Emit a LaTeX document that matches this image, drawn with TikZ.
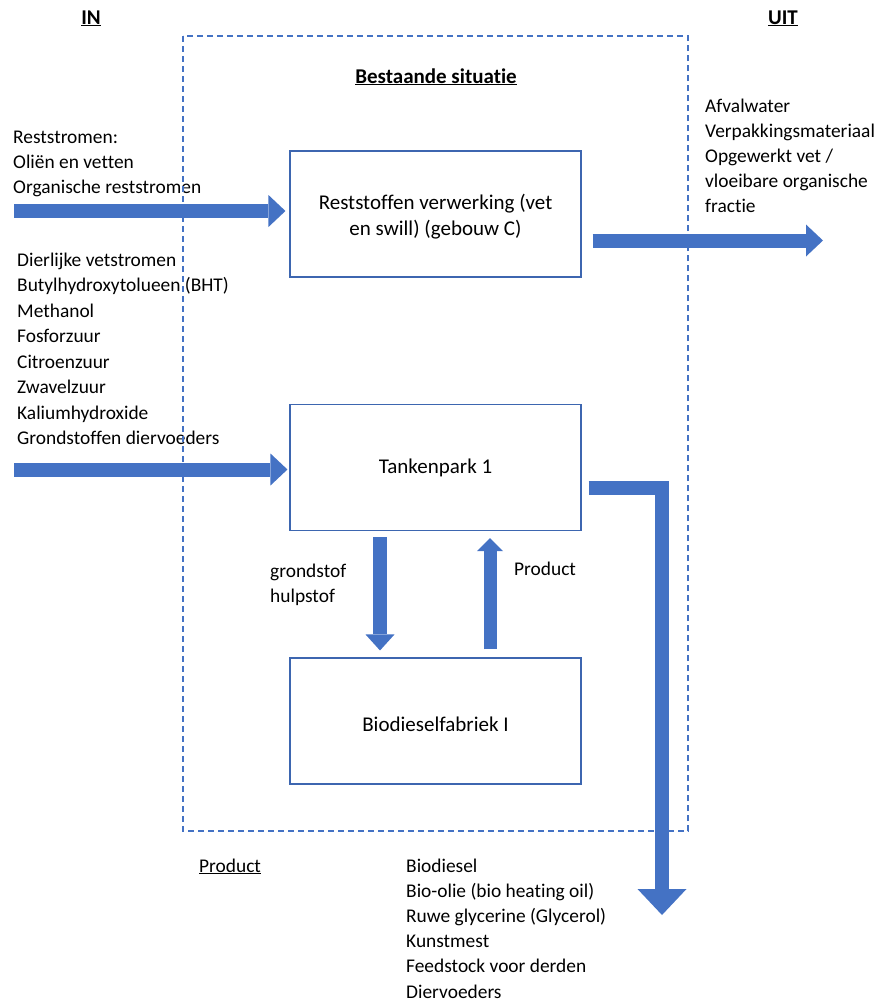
\documentclass[tikz,border=0pt]{standalone}
\usepackage{fontspec}
\setmainfont{Carlito}[Ligatures=NoCommon]
\usetikzlibrary{arrows.meta,positioning}
\definecolor{flowblue}{HTML}{4472C4}
\definecolor{boxblue}{HTML}{3D66B0}
\tikzset{
  procbox/.style={draw=boxblue,line width=1.1pt,fill=white,minimum width=291pt,
    minimum height=126pt,align=center,inner sep=0pt,font=\fontsize{21}{26}\selectfont},
  flow/.style={draw=flowblue,line width=14pt,
    -{Triangle[length=17pt,width=32pt,line width=0pt]}},
  listtext/.style={anchor=base west,inner sep=0pt},
  headtext/.style={anchor=base,inner sep=0pt,font=\fontsize{21}{26}\selectfont\bfseries},
}
\begin{document}
\begin{tikzpicture}[x=1pt,y=-1pt,
  every node/.style={font=\fontsize{19.4}{26}\selectfont}]
  \useasboundingbox (0,0) rectangle (877,1005);

  % Headers
  \node[headtext] (hin) at (91,24) {\underline{IN}};
  \node[headtext] (huit) at (783,24) {\underline{UIT}};
  \node[headtext] (htitle) at (436,83) {\underline{Bestaande situatie}};

  % Process boxes
  \node[procbox] (rest) at (435.5,214) {\rule{0pt}{21pt}Reststoffen verwerking (vet\\en swill) (gebouw C)};
  \node[procbox] (tank) at (435.5,467.5) {Tankenpark 1};
  \node[procbox] (bio) at (435.5,721) {\rule{0pt}{22pt}Biodieselfabriek I};

  % Incoming and outgoing streams
  \foreach \txt [count=\i from 0] in {Reststromen:,Oliën en vetten,Organische reststromen}
    \node[listtext] (inA\i) at (13,{143+25.2*\i}) {\txt};
  \foreach \txt [count=\i from 0] in {Dierlijke vetstromen,Butylhydroxytolueen (BHT),
      Methanol,Fosforzuur,Citroenzuur,Zwavelzuur,Kaliumhydroxide,Grondstoffen diervoeders}
    \node[listtext] (inB\i) at (17,{266+25.5*\i}) {\txt};
  \foreach \txt [count=\i from 0] in {Afvalwater,Verpakkingsmateriaal,Opgewerkt vet /,
      vloeibare organische,fractie}
    \node[listtext] (uit\i) at (705,{112+25*\i}) {\txt};

  \node[listtext] (grond) at (270,577) {grondstof};
  \node[listtext] (hulp) at (270,602) {hulpstof};
  \node[listtext] (prodlab) at (514,575) {Product};

  \node[listtext] (prodhead) at (199,872) {\underline{Product}};
  \foreach \txt [count=\i from 0] in {Biodiesel,Bio-olie (bio heating oil),
      Ruwe glycerine (Glycerol),Kunstmest,Feedstock voor derden,Diervoeders}
    \node[listtext] (prod\i) at (406,{872+25.2*\i}) {\txt};

  % Flow arrows
  \coordinate (srcA) at (14,211);
  \draw[flow,shorten >=4pt] (srcA) -- (srcA -| rest.west);
  \coordinate (dstA) at (823,240.5);
  \draw[flow] ([shift={(11,26.5)}]rest.east) -- (dstA);
  \coordinate (srcB) at (14,469.5);
  \draw[flow,shorten >=2pt] (srcB) -- (srcB -| tank.west);

  \draw[flow,-{Triangle[length=16pt,width=29pt,line width=0pt]},shorten <=6pt,shorten >=7pt]
    ([xshift=-55.5pt]tank.south) -- ([xshift=-55.5pt]bio.north);
  \draw[flow,line width=13pt,-{Triangle[length=13pt,width=26pt,line width=0pt]},
    shorten <=8pt,shorten >=7pt]
    ([xshift=54.5pt]bio.north) -- ([xshift=54.5pt]tank.south);

  \coordinate (bend) at (662,488);
  \coordinate (dstC) at (662,915);
  \draw[flow,line join=miter,-{Triangle[length=26pt,width=49pt,line width=0pt]},shorten <=7pt]
    ([yshift=-20.5pt]tank.east) -- (bend) -- (dstC);

  % Boundary of the existing situation
  \draw[flowblue,line width=1.1pt,dash pattern=on 6pt off 4pt] (183,36) rectangle (688,831);
\end{tikzpicture}
\end{document}
